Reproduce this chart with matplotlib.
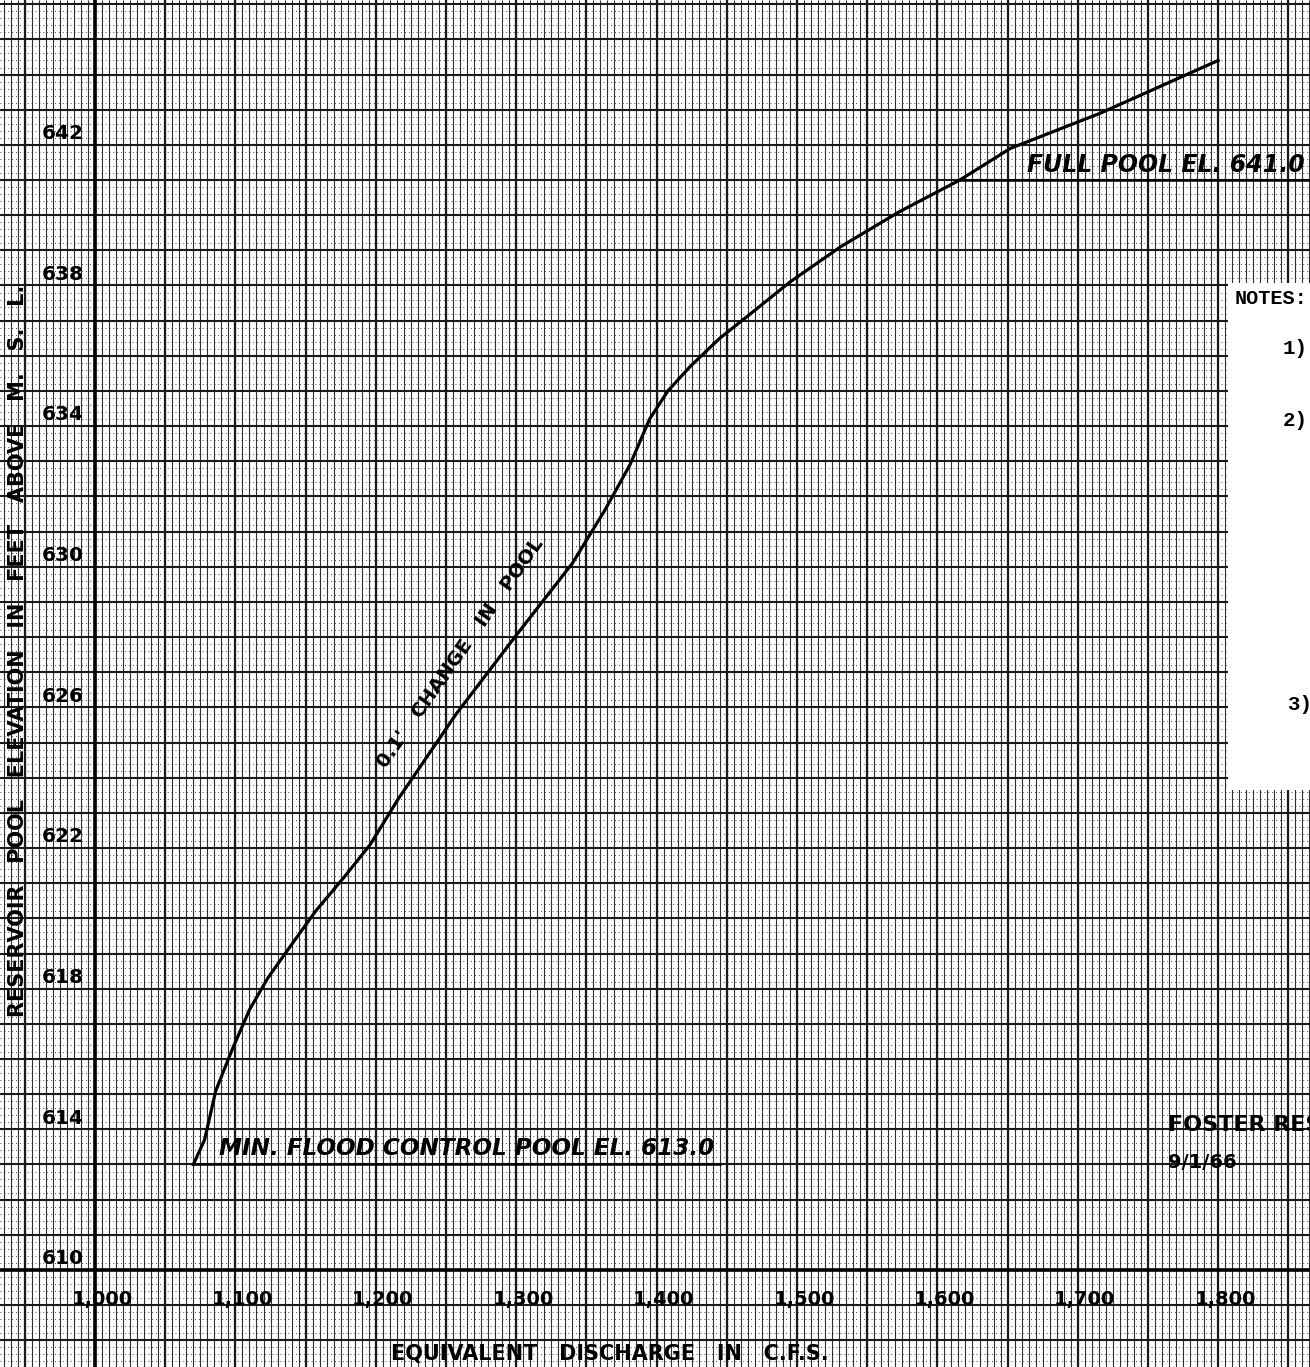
import numpy as np
import matplotlib.pyplot as plt

# Reservoir pool elevation vs equivalent discharge
discharge_cfs = [1070, 1078, 1086, 1098, 1110, 1123, 1139, 1157, 1178, 1196,
                 1216, 1257, 1299, 1340, 1363, 1381, 1395, 1408, 1424, 1445,
                 1467, 1495, 1531, 1573, 1616, 1652, 1716, 1800]
pool_elev_ft = [613.0, 613.7, 615.1, 616.3, 617.4, 618.3, 619.2, 620.2, 621.2, 622.1,
                623.4, 625.8, 628.0, 630.1, 631.6, 632.9, 634.2, 635.0, 635.7, 636.5,
                637.2, 638.1, 639.1, 640.1, 641.0, 641.9, 642.9, 644.4]

x_ticks = [1000, 1100, 1200, 1300, 1400, 1500, 1600, 1700, 1800]
x_tick_labels = ['1,000', '1,100', '1,200', '1,300', '1,400', '1,500', '1,600', '1,700', '1,800']
y_ticks = [610, 614, 618, 622, 626, 630, 634, 638, 642, 646]

full_pool = 641.0
min_pool = 613.0

xlim = (932.3, 1865.4)
ylim = (607.24, 646.12)

fig = plt.figure(figsize=(13.1, 13.67), dpi=100)
ax = fig.add_axes([0, 0, 1, 1])
ax.set_xlim(*xlim)
ax.set_ylim(*ylim)
ax.axis('off')

#### graph paper
ink = '#1a1a1a'
xs_minor = np.arange(930, 1870, 5)
ys_minor = np.arange(607.2, 646.2, 0.2)
ax.vlines(xs_minor, *ylim, colors=ink, lw=0.8, alpha=0.9, zorder=1)
ax.hlines(ys_minor, *xlim, colors=ink, lw=0.7, alpha=0.8, linestyles=(0, (1.0, 3.0)), zorder=1)
ax.vlines(np.arange(950, 1870, 50), *ylim, colors=ink, lw=1.6, zorder=2)
ax.hlines(np.arange(608, 647, 1), *xlim, colors=ink, lw=1.5, zorder=2)
ax.axvline(1000, color='black', lw=2.6, zorder=3)
ax.axhline(610, color='black', lw=2.6, zorder=3)

#### rating curve
ax.plot(discharge_cfs, pool_elev_ft, color='black', lw=2.3, zorder=6,
        solid_joinstyle='round')

# pool levels
ax.plot([discharge_cfs[0], 1445], [min_pool, min_pool], color='black', lw=1.8, zorder=6)
ax.plot([1616, xlim[1]], [full_pool, full_pool], color='black', lw=1.8, zorder=6)

lab = dict(fontweight='bold', color='black', zorder=7)
ax.text(1664, full_pool + 0.1, 'FULL POOL EL. 641.0', fontsize=17, style='italic',
        ha='left', va='bottom', **lab)
ax.text(1088, min_pool + 0.12, 'MIN. FLOOD CONTROL POOL EL. 613.0', fontsize=16.7, style='italic',
        ha='left', va='bottom', **lab)
ax.text(1260, 627.55, "0.1'   CHANGE   IN   POOL", fontsize=14, rotation=55,
        ha='center', va='center', **lab)

#### tick labels
for y in y_ticks:
    ax.text(977, y + 0.05, str(y), fontsize=14.5, fontweight='bold',
            ha='center', va='bottom', zorder=7)
for x, s in zip(x_ticks, x_tick_labels):
    ax.text(x + 5, 609.15, s, fontsize=14, fontweight='bold',
            ha='center', va='center', zorder=7)

ax.text(1367, 607.6, 'EQUIVALENT   DISCHARGE   IN   C.F.S.', fontsize=15,
        fontweight='bold', ha='center', va='center', zorder=7)
ax.text(945, 627.6, 'RESERVOIR   POOL   ELEVATION   IN   FEET   ABOVE   M.   S.   L.',
        fontsize=15, fontweight='bold', rotation=90, ha='center', va='center', zorder=7)

#### notes block (cut off at right edge)
ax.add_patch(plt.Rectangle((1807, 623.65), 80, 14.42, facecolor='white',
                           edgecolor='none', zorder=5))
mono = dict(family='Liberation Mono', fontweight='bold', color='black', zorder=7)
ax.text(1812, 637.64, 'NOTES:', fontsize=14.5, ha='left', va='center', **mono)
ax.text(1846, 636.2, '1)', fontsize=15, ha='left', va='center', **mono)
ax.text(1846, 634.17, '2)', fontsize=15, ha='left', va='center', **mono)
ax.text(1849, 626.07, '3)', fontsize=15, ha='left', va='center', **mono)

ax.text(1764, 614.12, 'FOSTER RES', fontsize=16, fontweight='bold',
        ha='left', va='center', zorder=7)
ax.text(1764, 613.07, '9/1/66', fontsize=14, fontweight='bold',
        ha='left', va='center', zorder=7)

fig.savefig('out.png', dpi=100)
